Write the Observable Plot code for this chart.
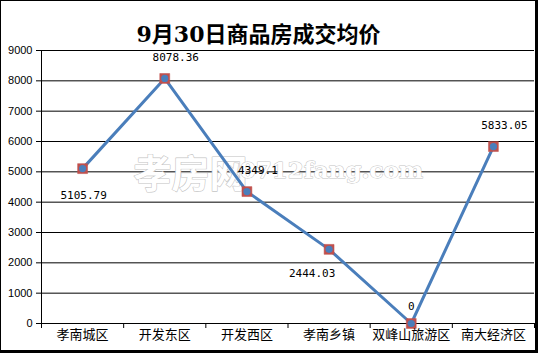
<!DOCTYPE html>
<html>
<head>
<meta charset="utf-8">
<script src="https://cdn.jsdelivr.net/npm/d3@7"></script>
<script src="https://cdn.jsdelivr.net/npm/@observablehq/plot@0.6"></script>
<style>
  html, body { margin: 0; padding: 0; background: #fff; }
  #wrap { position: relative; width: 538px; height: 353px; overflow: hidden; }
  #border { position: absolute; left: 0; top: 0; width: 538px; height: 353px; box-sizing: border-box;
            border-left: 1px solid #000; border-top: 1px solid #000; border-right: 3px solid #000; border-bottom: 3px solid #000; pointer-events: none; }
</style>
</head>
<body>
<div id="wrap"><div id="border"></div></div>
<script>
const title = "9月30日商品房成交均价";
const categories = ["孝南城区", "开发东区", "开发西区", "孝南乡镇", "双峰山旅游区", "南大经济区"];
const values = [5105.79, 8078.36, 4349.1, 2444.03, 0, 5833.05];
const valueLabels = ["5105.79", "8078.36", "4349.1", "2444.03", "0", "5833.05"];
const labelPlacement = ["below", "above-right", "above-right", "below-left", "above", "above-right"];
const yTicks = [0, 1000, 2000, 3000, 4000, 5000, 6000, 7000, 8000, 9000];
const watermark = ["孝房网", "0712fang.com"];

const offsets = {
  "below": [1, 27],
  "above": [0, -17],
  "above-right": [11, -21],
  "below-left": [-17, 24]
};

const data = categories.map((c, i) => ({
  cat: c, i: i + 0.5, v: values[i], label: valueLabels[i], place: labelPlacement[i]
}));

const labelMarks = Object.keys(offsets).map(p =>
  Plot.text(data.filter(d => d.place === p), {
    x: "i", y: "v", text: "label",
    dx: offsets[p][0], dy: offsets[p][1],
    fontFamily: "DejaVu Sans Mono", fontSize: 11, fill: "#000"
  })
);

const chart = Plot.plot({
  width: 538,
  height: 353,
  marginLeft: 41,
  marginRight: 4,
  marginTop: 50,
  marginBottom: 30,
  style: { fontFamily: "Liberation Sans, Noto Sans CJK SC", background: "#fff" },
  x: { domain: [0, categories.length], axis: null },
  y: { domain: [0, 9000], axis: null },
  marks: [
    Plot.ruleY(yTicks, { stroke: "#000", strokeWidth: 1, strokeOpacity: 1 }),
    Plot.axisY({ ticks: yTicks, tickSize: 5, tickPadding: 4, fontSize: 11, fill: "#000", stroke: "#000", label: null, tickFormat: d => String(d) }),
    Plot.axisX({ ticks: d3.range(categories.length + 1), tickSize: 5, stroke: "#000", label: null, tickFormat: () => "" }),
    Plot.ruleX([0], { stroke: "#000" }),
    Plot.text([watermark[0]], { frameAnchor: "top-left", dx: 190 - 41, dy: 160 - 50, fontSize: 38, fontWeight: "bold",
      fontFamily: "Noto Sans CJK SC", fill: "#fff", stroke: "#c4c4c4", strokeWidth: 1.2, textAnchor: "middle" }),
    Plot.text([watermark[1]], { frameAnchor: "top-left", dx: 331 - 41, dy: 161 - 50, fontSize: 23, fontWeight: "bold",
      fontFamily: "DejaVu Serif", fill: "#fff", stroke: "#c4c4c4", strokeWidth: 1, textAnchor: "middle" }),
    Plot.line(data, { x: "i", y: "v", stroke: "#4a7ebb", strokeWidth: 3 }),
    Plot.dot(data, { x: "i", y: "v", symbol: "square", r: 5.6, fill: "#c0504d", stroke: "#c0504d", strokeWidth: 0.5 }),
    Plot.dot(data, { x: "i", y: "v", r: 3.6, fill: "#4a7ebb" }),
    ...labelMarks,
    Plot.text(categories, { x: (d, i) => i + 0.5, frameAnchor: "bottom", dy: 15, fontSize: 13,
      fontFamily: "Noto Sans CJK SC", fill: "#000" }),
    Plot.text([title], { frameAnchor: "top-left", dx: 258 - 41, dy: -24, fontSize: 22, fontWeight: "bold",
      fontFamily: "DejaVu Serif, Noto Sans CJK SC", fill: "#000", textAnchor: "middle" })
  ]
});
document.getElementById("wrap").prepend(chart);
</script>
</body>
</html>
